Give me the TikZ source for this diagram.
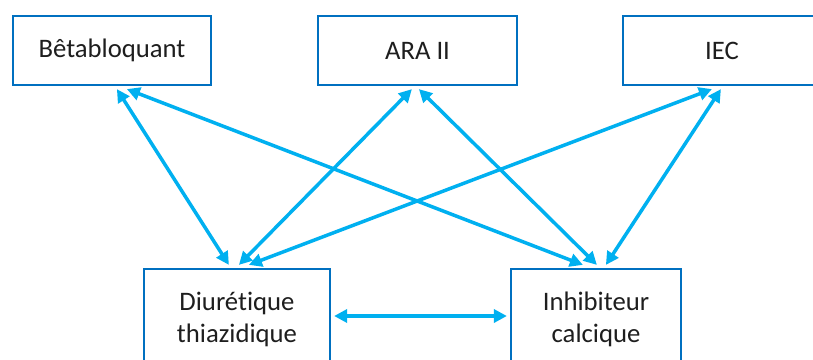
\documentclass[tikz,border=0pt]{standalone}
\usepackage{fontspec}
\setmainfont[Ligatures=NoCommon,RawFeature={-liga;-clig}]{Carlito}
\usetikzlibrary{arrows.meta,calc}
\definecolor{boxblue}{RGB}{0,112,192}
\definecolor{arrcyan}{RGB}{0,176,240}
\definecolor{txt}{RGB}{30,30,30}
\tikzset{
  box/.style={draw=boxblue, line width=2.2pt, fill=white, rectangle, inner sep=0pt,
    text=txt, align=center, font=\fontsize{26.7}{32}\selectfont},
  link/.style={draw=arrcyan, line width=3.5pt,
    {Triangle[length=13pt,width=13pt]}-{Triangle[length=13pt,width=13pt]}}
}
\begin{document}
\begin{tikzpicture}[x=1pt,y=-1pt]
\useasboundingbox (0,0) rectangle (813,359);
\clip (0,0) rectangle (813,359);
\fill[white] (0,0) rectangle (813,359);
\node[box, minimum width=198pt, minimum height=69pt] (b) at (112,50.5) {Bêtabloquant};
\node[box, minimum width=199pt, minimum height=69pt] (a) at (417.5,50.5) {ARA II};
\node[box, minimum width=198pt, minimum height=69pt] (e) at (722,50.5) {IEC};
\node[box, minimum width=186pt, minimum height=100pt] (d) at (237,319) {Diurétique\\thiazidique};
\node[box, minimum width=170pt, minimum height=100pt] (c) at (596,319) {Inhibiteur\\calcique};
% connectors
\draw[link] ([xshift=105pt,yshift=-3pt]b.south west) -- ([xshift=86pt,yshift=3pt]d.north west);
\draw[link] ([xshift=115pt,yshift=-3pt]b.south west) -- ([xshift=73pt,yshift=3pt]c.north west);
\draw[link] ([xshift=95pt,yshift=-3pt]a.south west) -- ([xshift=96pt,yshift=3pt]d.north west);
\draw[link] ([xshift=102pt,yshift=-3pt]a.south west) -- ([xshift=87pt,yshift=3pt]c.north west);
\draw[link] ([xshift=90pt,yshift=-3pt]e.south west) -- ([xshift=106pt,yshift=3pt]d.north west);
\draw[link] ([xshift=99pt,yshift=-3pt]e.south west) -- ([xshift=96pt,yshift=3pt]c.north west);
\draw[link] ([xshift=3pt]d.east |- 0,316) -- ([xshift=-3pt]c.west |- 0,316);
\end{tikzpicture}
\end{document}
